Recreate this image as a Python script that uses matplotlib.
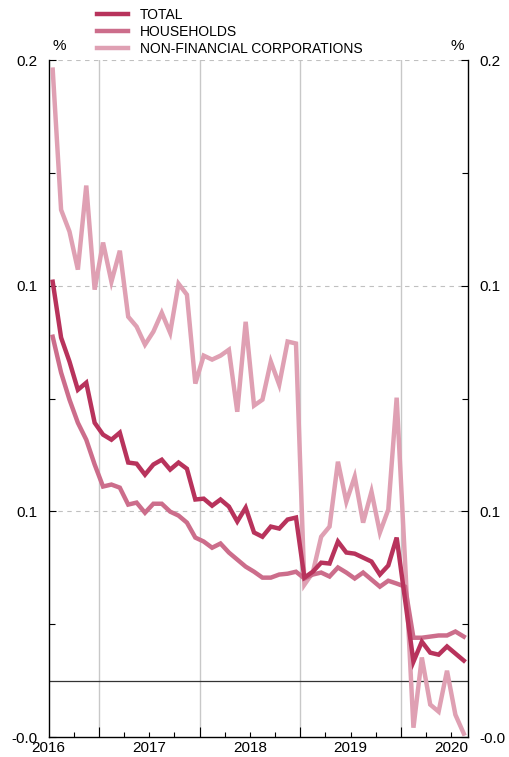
import numpy as np
import matplotlib
matplotlib.use('Agg')
import matplotlib.pyplot as plt
import matplotlib.transforms as mtransforms

plt.rcParams['font.family'] = ['Liberation Sans', 'DejaVu Sans']

# monthly data, Jul 2016 - Aug 2020
start_year = 2016.5
total = [0.1414, 0.1216, 0.1131, 0.1031, 0.1056, 0.0914, 0.0872, 0.0854, 0.0879, 0.0773,
         0.0769, 0.0730, 0.0766, 0.0783, 0.0748, 0.0773, 0.0751, 0.0642, 0.0645, 0.0620,
         0.0642, 0.0617, 0.0564, 0.0613, 0.0525, 0.0510, 0.0546, 0.0539, 0.0571, 0.0578,
         0.0365, 0.0386, 0.0418, 0.0415, 0.0493, 0.0454, 0.0450, 0.0436, 0.0422, 0.0376,
         0.0408, 0.0507, 0.0287, 0.0067, 0.0138, 0.0099, 0.0092, 0.0121, 0.0096, 0.0071]
households = [0.1219, 0.1092, 0.0996, 0.0914, 0.0854, 0.0766, 0.0688, 0.0695, 0.0684, 0.0624,
              0.0631, 0.0595, 0.0627, 0.0627, 0.0599, 0.0585, 0.0560, 0.0507, 0.0493, 0.0471,
              0.0486, 0.0454, 0.0429, 0.0404, 0.0386, 0.0365, 0.0365, 0.0376, 0.0379, 0.0386,
              0.0362, 0.0376, 0.0383, 0.0369, 0.0401, 0.0383, 0.0362, 0.0383, 0.0358, 0.0333,
              0.0354, 0.0344, 0.0333, 0.0152, 0.0152, 0.0156, 0.0160, 0.0160, 0.0174, 0.0156]
nfc = [0.2166, 0.1669, 0.1592, 0.1457, 0.1755, 0.1386, 0.1553, 0.1414, 0.1524, 0.1290,
       0.1255, 0.1191, 0.1237, 0.1304, 0.1233, 0.1407, 0.1368, 0.1053, 0.1152, 0.1138,
       0.1152, 0.1173, 0.0953, 0.1272, 0.0975, 0.0996, 0.1131, 0.1049, 0.1202, 0.1195,
       0.0340, 0.0383, 0.0510, 0.0546, 0.0776, 0.0634, 0.0723, 0.0560, 0.0670, 0.0525,
       0.0606, 0.1003, 0.0422, -0.0167, 0.0082, -0.0085, -0.0110, 0.0035, -0.0121, -0.0188]

labels = ['TOTAL', 'HOUSEHOLDS', 'NON-FINANCIAL CORPORATIONS']
colors = ['#b8335c', '#cc6d8b', '#dfa0b3']
years = [2016, 2017, 2018, 2019, 2020]
yticks = [-0.02, 0.06, 0.14, 0.22]

x = start_year + (np.arange(len(total)) + 0.5) / 12

fig = plt.figure(figsize=(5.09, 7.57), dpi=100)
ax = fig.add_axes([0.0953, 0.0264, 0.8241, 0.8943])

for yr in years[1:]:
    ax.axvline(yr, color='#c8c8c8', lw=1, zorder=1)
for yt in yticks[1:]:
    ax.axhline(yt, color='#c0c0c0', lw=0.8, ls=(0, (4, 4)), zorder=1)
ax.axhline(0, color='#333333', lw=0.9, zorder=2)

lines = []
for series, lab, col, z in zip([total, households, nfc], labels, colors, [5, 4, 3]):
    ln, = ax.plot(x, series, color=col, lw=3.2, label=lab, zorder=z,
                  solid_joinstyle='miter')
    lines.append(ln)

ax.set_xlim(start_year, start_year + len(total) / 12)
ax.set_ylim(-0.02, 0.22)

ax.set_yticks(yticks)
ax.set_yticklabels(['%.1f' % v for v in yticks])
ax.set_yticks([(a + b) / 2 for a, b in zip(yticks[:-1], yticks[1:])], minor=True)
ax.tick_params(axis='y', which='both', direction='in', left=True, right=True,
               labelleft=True, labelright=True, labelsize=11, pad=8)
ax.tick_params(axis='y', which='major', length=5, width=0.8)
ax.tick_params(axis='y', which='minor', length=4, width=0.8)

ax.set_xticks(years[1:])
ax.set_xticklabels([])
ax.set_xticks(np.arange(2016.75, 2020.7, 0.25), minor=True)
ax.tick_params(axis='x', which='major', direction='in', length=7, width=0.8)
ax.tick_params(axis='x', which='minor', direction='in', length=3.5, width=0.8)

trans = mtransforms.blended_transform_factory(ax.transData, ax.transAxes)
for yr in years:
    ax.text(yr + 0.5, -0.006, str(yr), transform=trans, ha='center', va='top',
            fontsize=11)

ax.spines['top'].set_visible(False)
for s in ['left', 'right', 'bottom']:
    ax.spines[s].set_linewidth(1.0)

ax.text(0.01, 1.01, '%', transform=ax.transAxes, ha='left', va='bottom', fontsize=11)
ax.text(0.99, 1.01, '%', transform=ax.transAxes, ha='right', va='bottom', fontsize=11)

fig.legend(handles=lines, labels=labels, loc='upper left',
           bbox_to_anchor=(0.18, 0.997), frameon=False, fontsize=10,
           handlelength=2.2, handletextpad=0.9, labelspacing=0.22,
           borderaxespad=0)

fig.savefig('out.png', dpi=100)
